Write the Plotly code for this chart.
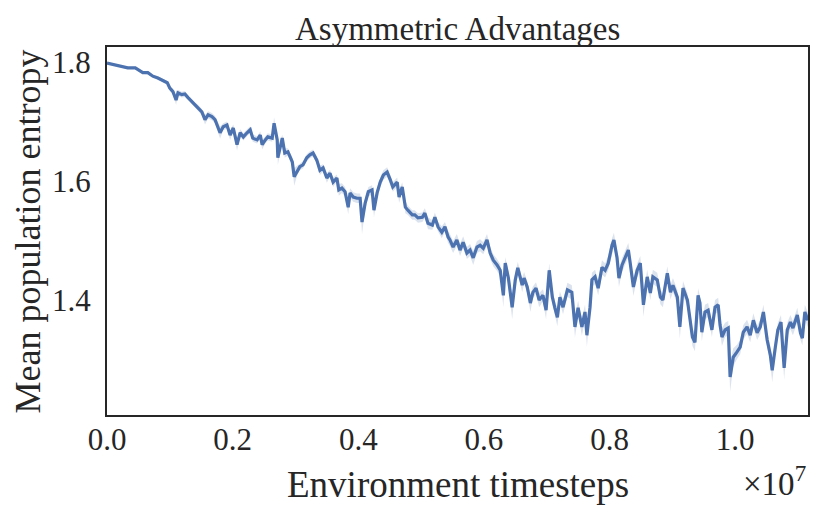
import plotly.graph_objects as go

# Timesteps in units of 1e7, mean population entropy, and spread (std band half-width)
t_seg1 = [0.000, 0.013, 0.024, 0.033, 0.045, 0.053, 0.057, 0.065, 0.073, 0.081, 0.089, 0.096, 0.100, 0.105,
          0.110, 0.113, 0.119, 0.124, 0.129, 0.135, 0.140, 0.145, 0.151, 0.156, 0.161, 0.167, 0.172, 0.180]
e_seg1 = [1.798, 1.795, 1.793, 1.790, 1.790, 1.785, 1.782, 1.782, 1.776, 1.773, 1.768, 1.765, 1.756, 1.750,
          1.736, 1.748, 1.745, 1.746, 1.740, 1.733, 1.728, 1.723, 1.716, 1.703, 1.711, 1.708, 1.703, 1.681]
s_seg1 = [0.002, 0.002, 0.002, 0.002, 0.002, 0.002, 0.002, 0.003, 0.003, 0.003, 0.003, 0.003, 0.004, 0.005,
          0.008, 0.005, 0.005, 0.005, 0.004, 0.004, 0.004, 0.005, 0.005, 0.008, 0.006, 0.006, 0.006, 0.010]

t_seg2 = [0.185, 0.191, 0.196, 0.201, 0.207, 0.212, 0.217, 0.223, 0.228, 0.232, 0.239, 0.244, 0.247, 0.252,
          0.256, 0.263, 0.266, 0.271, 0.272, 0.279, 0.283, 0.288, 0.295, 0.298, 0.303, 0.307, 0.312, 0.318,
          0.323, 0.328, 0.334, 0.339, 0.344, 0.350, 0.355, 0.360, 0.366, 0.369]
e_seg2 = [1.691, 1.694, 1.677, 1.689, 1.661, 1.681, 1.674, 1.681, 1.686, 1.672, 1.669, 1.677, 1.661, 1.669,
          1.674, 1.672, 1.697, 1.669, 1.639, 1.672, 1.647, 1.649, 1.632, 1.607, 1.618, 1.624, 1.627, 1.639,
          1.644, 1.647, 1.635, 1.618, 1.622, 1.605, 1.613, 1.598, 1.605, 1.585]
s_seg2 = [0.006, 0.006, 0.008, 0.006, 0.010, 0.006, 0.006, 0.006, 0.006, 0.006, 0.006, 0.006, 0.008, 0.006,
          0.006, 0.006, 0.010, 0.006, 0.012, 0.006, 0.008, 0.006, 0.008, 0.015, 0.008, 0.006, 0.006, 0.006,
          0.006, 0.006, 0.006, 0.008, 0.006, 0.008, 0.006, 0.008, 0.006, 0.010]

t_seg3 = [0.374, 0.379, 0.384, 0.387, 0.392, 0.398, 0.403, 0.406, 0.411, 0.416, 0.422, 0.425, 0.430, 0.435,
          0.440, 0.446, 0.451, 0.455, 0.462, 0.465, 0.470, 0.475, 0.479, 0.486, 0.490, 0.495, 0.502, 0.506,
          0.511, 0.518, 0.522, 0.527, 0.533, 0.538, 0.543]
e_seg3 = [1.588, 1.582, 1.556, 1.580, 1.573, 1.571, 1.571, 1.531, 1.563, 1.582, 1.585, 1.551, 1.580, 1.598,
          1.610, 1.615, 1.602, 1.590, 1.598, 1.573, 1.590, 1.556, 1.551, 1.543, 1.543, 1.538, 1.539, 1.546,
          1.529, 1.526, 1.539, 1.523, 1.514, 1.523, 1.506]
s_seg3 = [0.008, 0.008, 0.012, 0.008, 0.008, 0.008, 0.008, 0.020, 0.010, 0.008, 0.008, 0.012, 0.008, 0.008,
          0.008, 0.008, 0.008, 0.008, 0.008, 0.010, 0.008, 0.010, 0.008, 0.008, 0.008, 0.008, 0.008, 0.008,
          0.010, 0.008, 0.008, 0.008, 0.010, 0.008, 0.010]

t_seg4 = [0.546, 0.551, 0.557, 0.562, 0.567, 0.573, 0.578, 0.583, 0.589, 0.594, 0.599, 0.605, 0.610, 0.615,
          0.621, 0.626, 0.631, 0.634, 0.639, 0.645, 0.650, 0.654, 0.661, 0.664, 0.669, 0.674, 0.678, 0.683,
          0.688, 0.694, 0.699, 0.704, 0.709, 0.713, 0.717, 0.721, 0.726]
e_seg4 = [1.501, 1.489, 1.501, 1.484, 1.497, 1.479, 1.484, 1.471, 1.489, 1.492, 1.487, 1.501, 1.479, 1.467,
          1.459, 1.450, 1.408, 1.462, 1.437, 1.388, 1.434, 1.454, 1.425, 1.437, 1.422, 1.395, 1.413, 1.420,
          1.400, 1.408, 1.383, 1.450, 1.405, 1.387, 1.371, 1.405, 1.388]
s_seg4 = [0.010, 0.010, 0.010, 0.010, 0.010, 0.010, 0.010, 0.012, 0.010, 0.010, 0.010, 0.010, 0.010, 0.010,
          0.010, 0.010, 0.020, 0.010, 0.012, 0.020, 0.012, 0.010, 0.012, 0.010, 0.010, 0.015, 0.010, 0.010,
          0.012, 0.010, 0.015, 0.012, 0.010, 0.012, 0.015, 0.010, 0.012]

t_seg5 = [0.733, 0.740, 0.745, 0.750, 0.756, 0.761, 0.764, 0.769, 0.772, 0.777, 0.782, 0.788, 0.793, 0.798,
          0.804, 0.807, 0.812, 0.815, 0.820, 0.825, 0.830, 0.833, 0.838, 0.844, 0.849, 0.854, 0.860, 0.865,
          0.869, 0.876, 0.881, 0.885, 0.892, 0.897, 0.901, 0.908, 0.912, 0.917]
e_seg5 = [1.417, 1.413, 1.355, 1.387, 1.355, 1.380, 1.341, 1.388, 1.434, 1.439, 1.420, 1.455, 1.450, 1.462,
          1.492, 1.501, 1.471, 1.437, 1.459, 1.472, 1.484, 1.462, 1.422, 1.450, 1.462, 1.392, 1.439, 1.412,
          1.439, 1.434, 1.405, 1.400, 1.445, 1.413, 1.425, 1.405, 1.355, 1.420]
s_seg5 = [0.012, 0.012, 0.018, 0.012, 0.015, 0.012, 0.020, 0.012, 0.012, 0.012, 0.012, 0.012, 0.012, 0.012,
          0.012, 0.012, 0.012, 0.015, 0.012, 0.012, 0.012, 0.012, 0.015, 0.012, 0.012, 0.020, 0.012, 0.012,
          0.012, 0.012, 0.012, 0.012, 0.012, 0.012, 0.012, 0.012, 0.020, 0.012]

t_seg6 = [0.924, 0.932, 0.936, 0.941, 0.944, 0.947, 0.952, 0.957, 0.963, 0.968, 0.973, 0.976, 0.979, 0.984,
          0.989, 0.992, 0.997, 1.003, 1.008, 1.013, 1.019, 1.024, 1.029, 1.035, 1.040, 1.045, 1.051, 1.056,
          1.059, 1.064, 1.068, 1.073, 1.078, 1.083, 1.088, 1.092, 1.099, 1.104, 1.107, 1.111, 1.116]
e_seg6 = [1.400, 1.338, 1.329, 1.408, 1.395, 1.346, 1.380, 1.383, 1.350, 1.388, 1.392, 1.358, 1.338, 1.350,
          1.353, 1.271, 1.304, 1.313, 1.321, 1.346, 1.355, 1.341, 1.366, 1.345, 1.355, 1.380, 1.333, 1.308,
          1.282, 1.321, 1.350, 1.363, 1.286, 1.350, 1.363, 1.353, 1.375, 1.345, 1.336, 1.380, 1.366]
s_seg6 = [0.012, 0.015, 0.015, 0.012, 0.012, 0.015, 0.012, 0.012, 0.012, 0.012, 0.012, 0.012, 0.015, 0.012,
          0.012, 0.025, 0.015, 0.012, 0.012, 0.012, 0.012, 0.012, 0.012, 0.012, 0.012, 0.012, 0.012, 0.015,
          0.020, 0.012, 0.012, 0.012, 0.020, 0.012, 0.012, 0.012, 0.012, 0.012, 0.012, 0.012, 0.012]

x_ticks = [0.0, 0.2, 0.4, 0.6, 0.8, 1.0]
x_tick_labels = ["0.0", "0.2", "0.4", "0.6", "0.8", "1.0"]
y_ticks = [1.4, 1.6, 1.8]
y_tick_labels = ["1.4", "1.6", "1.8"]

timesteps = t_seg1 + t_seg2 + t_seg3 + t_seg4 + t_seg5 + t_seg6
entropy = e_seg1 + e_seg2 + e_seg3 + e_seg4 + e_seg5 + e_seg6
spread = s_seg1 + s_seg2 + s_seg3 + s_seg4 + s_seg5 + s_seg6

upper = [m + s for m, s in zip(entropy, spread)]
lower = [m - s for m, s in zip(entropy, spread)]

FONT = "Liberation Serif"
LINE = "#4C72B0"
FRAME = "#262626"

fig = go.Figure()
fig.add_trace(go.Scatter(x=timesteps, y=upper, mode="lines", line=dict(width=0, color=LINE),
                         hoverinfo="skip", showlegend=False))
fig.add_trace(go.Scatter(x=timesteps, y=lower, mode="lines", line=dict(width=0, color=LINE),
                         fill="tonexty", fillcolor="rgba(76,114,176,0.2)", hoverinfo="skip", showlegend=False))
fig.add_trace(go.Scatter(x=timesteps, y=entropy, mode="lines", line=dict(width=3.2, color=LINE),
                         showlegend=False))

fig.update_layout(
    width=822, height=500,
    margin=dict(l=99, r=22, t=39, b=93),
    paper_bgcolor="white", plot_bgcolor="white",
    font=dict(family=FONT, color=FRAME),
    showlegend=False,
    annotations=[
        dict(text="Asymmetric Advantages", xref="paper", yref="paper", x=0.5, y=1.0, yshift=18,
             xanchor="center", yanchor="middle", showarrow=False, font=dict(size=33, family=FONT, color=FRAME)),
        dict(text="Environment timesteps", xref="paper", yref="paper", x=0.5, y=-0.19,
             xanchor="center", yanchor="middle", showarrow=False, font=dict(size=37, family=FONT, color=FRAME)),
        dict(text="Mean population entropy", xref="paper", yref="paper", x=-0.112, y=0.5, textangle=-90,
             xanchor="center", yanchor="middle", showarrow=False, font=dict(size=36, family=FONT, color=FRAME)),
        dict(text="×10<sup>7</sup>", xref="paper", yref="paper", x=1.0, y=-0.18,
             xanchor="right", yanchor="middle", showarrow=False, font=dict(size=33, family=FONT, color=FRAME)),
    ],
)
fig.update_xaxes(range=[0, 1.116], tickvals=x_ticks, ticktext=x_tick_labels,
                 showgrid=False, zeroline=False, showline=True, mirror=True,
                 linecolor=FRAME, linewidth=2, ticks="", ticklabelstandoff=-4,
                 tickfont=dict(size=31, family=FONT, color=FRAME))
fig.update_yaxes(range=[1.207, 1.825], tickvals=y_ticks, ticktext=y_tick_labels,
                 showgrid=False, zeroline=False, showline=True, mirror=True,
                 linecolor=FRAME, linewidth=2, ticks="outside", ticklen=8, tickcolor="rgba(0,0,0,0)",
                 tickfont=dict(size=31, family=FONT, color=FRAME))

fig.write_html("out.html")
